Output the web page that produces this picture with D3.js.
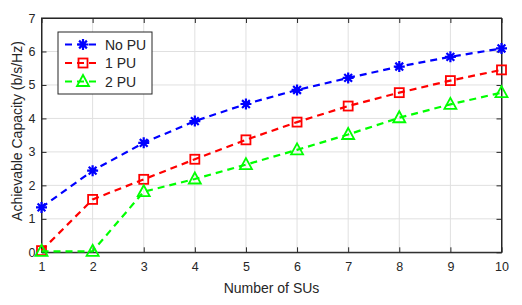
<!DOCTYPE html>
<html>
<head>
<meta charset="utf-8">
<script src="https://cdn.jsdelivr.net/npm/d3@7"></script>
<style>
  body { margin: 0; background: #fff; }
  text { font-family: "Liberation Sans", Arial, sans-serif; fill: #262626; }
</style>
</head>
<body>
<div id="chart"></div>
<script>
const numSUs = [1, 2, 3, 4, 5, 6, 7, 8, 9, 10];
const noPU  = [1.34, 2.44, 3.27, 3.92, 4.43, 4.85, 5.21, 5.55, 5.84, 6.09];
const onePU = [0.05, 1.58, 2.18, 2.78, 3.36, 3.89, 4.37, 4.77, 5.13, 5.45];
const twoPU = [0.03, 0.03, 1.81, 2.19, 2.62, 3.06, 3.52, 4.02, 4.42, 4.77];
const yTicks = [0, 1, 2, 3, 4, 5, 6, 7];

const series = [
    { name: 'No PU', values: noPU,  color: '#0000ff', marker: 'star' },
    { name: '1 PU',  values: onePU, color: '#ff0000', marker: 'square' },
    { name: '2 PU',  values: twoPU, color: '#00ff00', marker: 'triangle' }
];

const width = 522;
const height = 305;
const margin = { top: 18, right: 20.5, bottom: 52.7, left: 41.5 };
const innerW = width - margin.left - margin.right;
const innerH = height - margin.top - margin.bottom;

const svg = d3.select('#chart')
    .append('svg')
    .attr('width', width)
    .attr('height', height);

const g = svg.append('g')
    .attr('transform', `translate(${margin.left}, ${margin.top})`);

const x = d3.scaleLinear().domain([1, 10]).range([0, innerW]);
const y = d3.scaleLinear().domain([0, 7]).range([innerH, 0]);

// grid
g.append('g').selectAll('line')
    .data(numSUs)
    .enter().append('line')
    .attr('x1', d => x(d)).attr('x2', d => x(d))
    .attr('y1', 0).attr('y2', innerH)
    .attr('stroke', '#e0e0e0').attr('stroke-width', 1);
g.append('g').selectAll('line')
    .data(yTicks)
    .enter().append('line')
    .attr('x1', 0).attr('x2', innerW)
    .attr('y1', d => y(d)).attr('y2', d => y(d))
    .attr('stroke', '#e0e0e0').attr('stroke-width', 1);

// axes with inward ticks
const tick = 5;
const fmt = d3.format('d');
const xAxis = g.append('g')
    .attr('transform', `translate(0, ${innerH})`)
    .call(d3.axisBottom(x).tickValues(numSUs).tickFormat(fmt).tickSizeInner(-tick).tickSizeOuter(0).tickPadding(10));
const yAxis = g.append('g')
    .call(d3.axisLeft(y).tickValues(yTicks).tickFormat(fmt).tickSizeInner(-tick).tickSizeOuter(0).tickPadding(6));
const xTop = g.append('g')
    .call(d3.axisTop(x).tickValues(numSUs).tickSizeInner(-tick).tickSizeOuter(0).tickFormat(''));
const yRight = g.append('g')
    .attr('transform', `translate(${innerW}, 0)`)
    .call(d3.axisRight(y).tickValues(yTicks).tickSizeInner(-tick).tickSizeOuter(0).tickFormat(''));

[xAxis, yAxis, xTop, yRight].forEach(a => {
    a.select('.domain').attr('stroke', '#262626');
    a.selectAll('.tick line').attr('stroke', '#262626');
    a.selectAll('.tick text').attr('font-size', 12.5).attr('fill', '#262626')
        .attr('font-family', '"Liberation Sans", Arial, sans-serif');
});
g.append('rect')
    .attr('width', innerW).attr('height', innerH)
    .attr('fill', 'none').attr('stroke', '#262626').attr('stroke-width', 1);

// markers
const drawMarker = (sel, type, color) => {
    if (type === 'star') {
        const r = 5.5;
        const p = [];
        for (let i = 0; i < 4; i++) {
            const a = i * Math.PI / 4;
            p.push(`M${-r * Math.cos(a)},${-r * Math.sin(a)}L${r * Math.cos(a)},${r * Math.sin(a)}`);
        }
        sel.append('path').attr('d', p.join(''))
            .attr('stroke', color).attr('stroke-width', 2.2).attr('fill', 'none');
    } else if (type === 'square') {
        sel.append('rect').attr('x', -4.5).attr('y', -4.5).attr('width', 9).attr('height', 9)
            .attr('stroke', color).attr('stroke-width', 1.8).attr('fill', 'none');
    } else {
        sel.append('path').attr('d', 'M0,-6.5L6,4.5L-6,4.5Z')
            .attr('stroke', color).attr('stroke-width', 1.8).attr('fill', 'none');
    }
};

const line = d3.line().x((d, i) => x(numSUs[i])).y(d => y(d));

series.forEach(s => {
    g.append('path')
        .datum(s.values)
        .attr('d', line)
        .attr('fill', 'none')
        .attr('stroke', s.color)
        .attr('stroke-width', 2.2)
        .attr('stroke-dasharray', '7,5');
    g.selectAll(null)
        .data(s.values)
        .enter().append('g')
        .attr('transform', (d, i) => `translate(${x(numSUs[i])}, ${y(d)})`)
        .each(function () { drawMarker(d3.select(this), s.marker, s.color); });
});

// legend
const legend = svg.append('g').attr('transform', 'translate(58, 32)');
legend.append('rect')
    .attr('width', 94).attr('height', 62)
    .attr('fill', '#fff').attr('stroke', '#262626').attr('stroke-width', 1);
series.forEach((s, i) => {
    const row = legend.append('g').attr('transform', `translate(0, ${12.5 + i * 18.5})`);
    row.append('line')
        .attr('x1', 7).attr('x2', 42)
        .attr('stroke', s.color).attr('stroke-width', 2.2)
        .attr('stroke-dasharray', '7,5');
    const m = row.append('g').attr('transform', 'translate(25, 0)');
    drawMarker(m, s.marker, s.color);
    row.append('text')
        .attr('x', 47).attr('y', 5)
        .attr('font-size', 14)
        .text(s.name);
});

// axis labels
svg.append('text')
    .attr('x', margin.left + innerW / 2)
    .attr('y', 293)
    .attr('text-anchor', 'middle')
    .attr('font-size', 14)
    .text('Number of SUs');
svg.append('text')
    .attr('transform', 'translate(22, 131) rotate(-90)')
    .attr('text-anchor', 'middle')
    .attr('font-size', 14)
    .text('Achievable Capacity (b/s/Hz)');
</script>
</body>
</html>
